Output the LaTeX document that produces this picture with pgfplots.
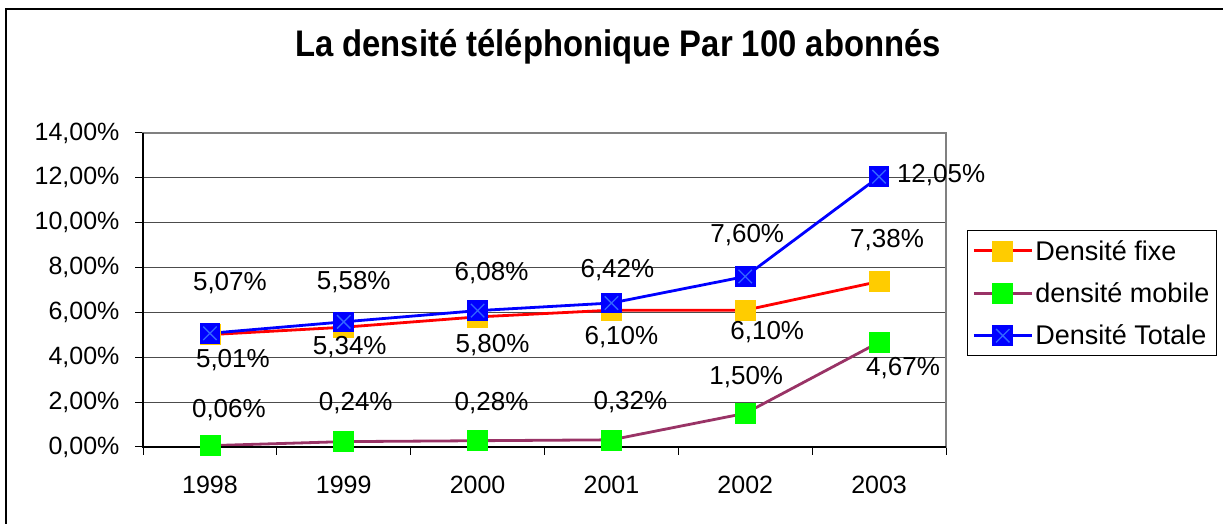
\documentclass[border=0pt]{standalone}
\usepackage{fontspec}
\setmainfont{Liberation Sans}
\usepackage{pgfplots}
\pgfplotsset{compat=1.18}
\usepackage{pgfplotstable}
\definecolor{fixeline}{HTML}{FF0000}
\definecolor{fixemark}{HTML}{FFCC00}
\definecolor{mobline}{HTML}{993366}
\definecolor{mobmark}{HTML}{00FF00}
\definecolor{totline}{HTML}{0000FF}
\definecolor{xmark}{HTML}{3366FF}
\newcommand\lbl{\fontsize{26}{30}\selectfont}
\newcommand\leg{\fontsize{27}{30}\selectfont}
\newcommand\tck{\fontsize{25}{30}\selectfont}
\pgfdeclareplotmark{sqx}{%
  \pgfpathrectangle{\pgfpoint{-\pgfplotmarksize}{-\pgfplotmarksize}}{\pgfpoint{2*\pgfplotmarksize}{2*\pgfplotmarksize}}%
  \pgfusepathqfill
  \pgfsetstrokecolor{xmark}%
  \pgfsetlinewidth{1.3pt}%
  \pgfpathmoveto{\pgfpoint{-0.65*\pgfplotmarksize}{-0.65*\pgfplotmarksize}}%
  \pgfpathlineto{\pgfpoint{0.65*\pgfplotmarksize}{0.65*\pgfplotmarksize}}%
  \pgfpathmoveto{\pgfpoint{-0.65*\pgfplotmarksize}{0.65*\pgfplotmarksize}}%
  \pgfpathlineto{\pgfpoint{0.65*\pgfplotmarksize}{-0.65*\pgfplotmarksize}}%
  \pgfusepathqstroke
}
\pgfplotstableread{
x y lab dx dy
0 5.01 5,01 23 -25
1 5.34 5,34 6 -20
2 5.80 5,80 15 -28
3 6.10 6,10 10 -27
4 6.10 6,10 22 -22
5 7.38 7,38 8 41
}\fixe
\pgfplotstableread{
x y lab dx dy
0 0.06 0,06 19 36
1 0.24 0,24 12 39
2 0.28 0,28 14 38
3 0.32 0,32 19 38
4 1.50 1,50 1 36
5 4.67 4,67 24 -26
}\mobile
\pgfplotstableread{
x y lab dx dy
0 5.07 5,07 20 50
1 5.58 5,58 10 40
2 6.08 6,08 14 38
3 6.42 6,42 6 33
4 7.60 7,60 2 41
5 12.05 12,05 62 2
}\totale
\begin{document}
\begin{tikzpicture}
\useasboundingbox (0pt,0pt) rectangle (1223pt,524pt);
\draw[line width=1.5pt] (6pt,0pt) -- (6pt,515pt) -- (1223pt,515pt);
\node[anchor=base, font=\fontsize{37}{40}\selectfont\bfseries, xscale=0.887] at (618pt,467pt) {La densité téléphonique Par 100 abonnés};
\begin{axis}[
  at={(143pt,77pt)}, anchor=south west,
  scale only axis, width=803pt, height=314pt,
  xmin=-0.5, xmax=5.5, ymin=0, ymax=14,
  xtick={0,...,5}, xticklabels={1998,1999,2000,2001,2002,2003},
  minor xtick={-0.5,0.5,...,5.5},
  ytick={0,2,...,14},
  yticklabels={{0,00\%},{2,00\%},{4,00\%},{6,00\%},{8,00\%},{10,00\%},{12,00\%},{14,00\%}},
  xtick pos=bottom, ytick pos=left,
  tick align=outside, major tick length=8pt, minor tick length=8pt,
  major x tick style={draw=none},
  tick style={black, line width=1pt},
  ymajorgrids, grid style={black!70, line width=0.8pt},
  axis line style={gray, line width=1.2pt},
  ticklabel style={font=\tck},
  xticklabel style={yshift=-18pt},
  yticklabel style={xshift=-12pt},
  clip=false,
  legend style={at={(1.026,0.69)}, anchor=north west, draw=black, line width=0.8pt,
    font=\leg, row sep=17pt, inner xsep=5pt, inner ysep=7.5pt},
  legend cell align=left,
  legend image code/.code={%
    \draw[#1, line width=3pt, mark=none] (0pt,0pt) -- (58pt,0pt);
    \draw[#1] plot coordinates {(29pt,0pt)};},
  every node near coord/.append style={anchor=center, text=black, font=\lbl, xshift=\dx pt, yshift=\dy pt},
]
\addplot[fixeline, line width=2.8pt, mark=square*, mark size=10pt,
  mark options={fill=fixemark, draw=fixemark, line width=0.6pt, solid},
  point meta=explicit symbolic, nodes near coords={\pgfplotspointmeta\%},
  visualization depends on={\thisrow{dx}\as\dx},
  visualization depends on={\thisrow{dy}\as\dy}]
  table[x=x, y=y, meta=lab]{\fixe};
\addlegendentry{Densité fixe}
\addplot[mobline, line width=2.8pt, mark=square*, mark size=10pt,
  mark options={fill=mobmark, draw=mobmark, line width=0.6pt, solid},
  point meta=explicit symbolic, nodes near coords={\pgfplotspointmeta\%},
  visualization depends on={\thisrow{dx}\as\dx},
  visualization depends on={\thisrow{dy}\as\dy}]
  table[x=x, y=y, meta=lab]{\mobile};
\addlegendentry{densité mobile}
\addplot[totline, line width=2.8pt, mark=sqx, mark size=10.3pt,
  mark options={fill=totline, solid},
  point meta=explicit symbolic, nodes near coords={\pgfplotspointmeta\%},
  visualization depends on={\thisrow{dx}\as\dx},
  visualization depends on={\thisrow{dy}\as\dy}]
  table[x=x, y=y, meta=lab]{\totale};
\addlegendentry{Densité Totale}
\draw[black, line width=1.2pt] (rel axis cs:0,1) -- (rel axis cs:0,0) -- (rel axis cs:1,0);
\end{axis}
\end{tikzpicture}
\end{document}
